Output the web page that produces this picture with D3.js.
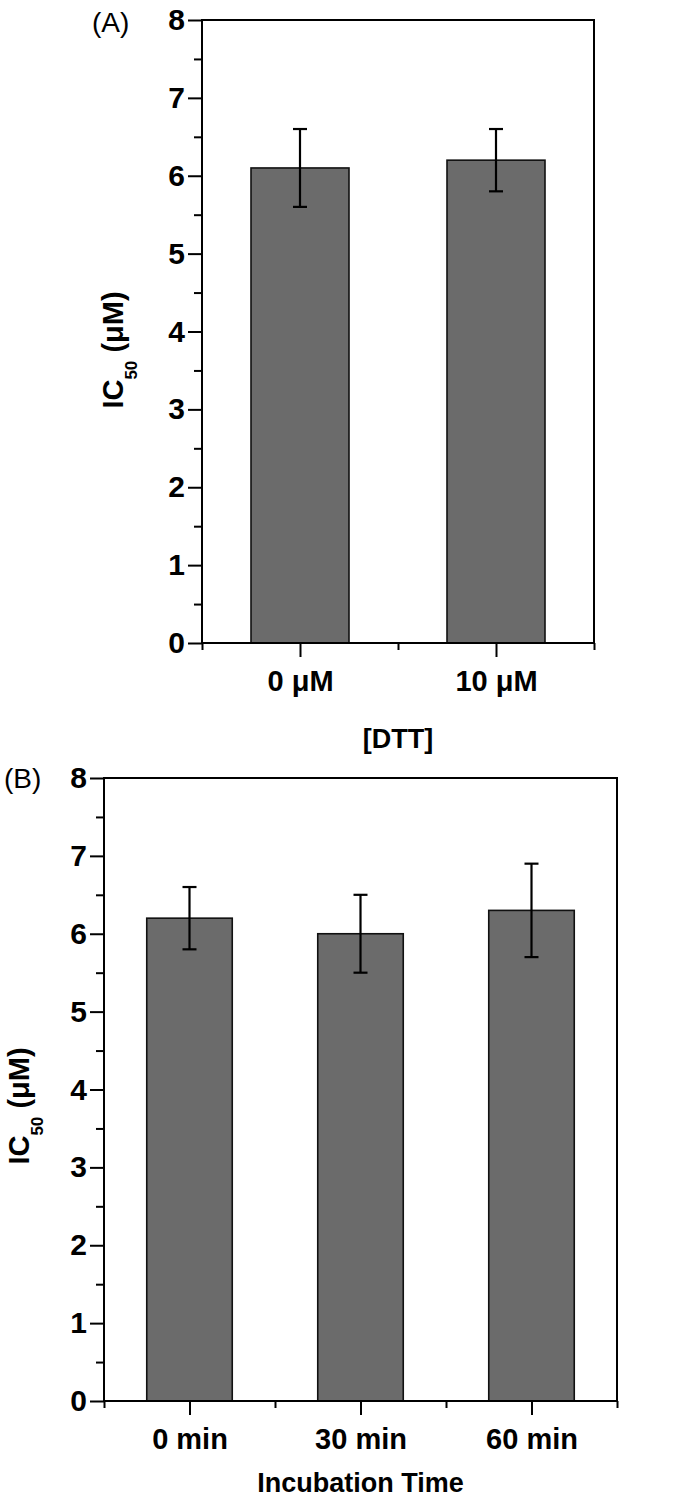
<!DOCTYPE html>
<html>
<head>
<meta charset="utf-8">
<script src="https://cdn.jsdelivr.net/npm/d3@7"></script>
<style>
  body { margin: 0; background: #fff; }
  svg { display: block; }
  text { font-family: "Liberation Sans", Arial, sans-serif; }
</style>
</head>
<body>
<svg id="chart" width="700" height="1511"></svg>
<script>
// ---- data ----
const categoriesA = ["0 μM", "10 μM"];
const valuesA = [6.1, 6.2];
const errorsA = [0.5, 0.4];

const categoriesB = ["0 min", "30 min", "60 min"];
const valuesB = [6.2, 6.0, 6.3];
const errorsB = [0.4, 0.5, 0.6];

const yMajorTicks = [0, 1, 2, 3, 4, 5, 6, 7, 8];
const yMinorTicks = [0.5, 1.5, 2.5, 3.5, 4.5, 5.5, 6.5, 7.5];

const panelLabels = ["(A)", "(B)"];
const xTitles = ["[DTT]", "Incubation Time"];

// ---- layout ----
const svg = d3.select("#chart");

function panel(cfg) {
  const n = cfg.cats.length;
  const x = d3.scaleLinear().domain([0.5, n + 0.5]).range([cfg.left, cfg.right]);
  const y = d3.scaleLinear().domain([0, 8]).range([cfg.bottom, cfg.top]);
  const g = svg.append("g");

  // bars (width = half a category slot)
  const bw = x(1.5) - x(1);
  g.selectAll("rect.bar").data(cfg.vals).enter().append("rect")
    .attr("class", "bar")
    .attr("x", (d, i) => x(i + 1) - bw / 2)
    .attr("width", bw)
    .attr("y", d => y(d))
    .attr("height", d => y(0) - y(d))
    .attr("fill", "#6b6b6b")
    .attr("stroke", "#111")
    .attr("stroke-width", 1.6);

  // error bars
  const cap = 7;
  const eb = g.selectAll("g.err").data(cfg.vals).enter().append("g").attr("class", "err");
  eb.append("line")
    .attr("x1", (d, i) => x(i + 1)).attr("x2", (d, i) => x(i + 1))
    .attr("y1", (d, i) => y(d + cfg.errs[i])).attr("y2", (d, i) => y(d - cfg.errs[i]));
  eb.append("line")
    .attr("x1", (d, i) => x(i + 1) - cap).attr("x2", (d, i) => x(i + 1) + cap)
    .attr("y1", (d, i) => y(d + cfg.errs[i])).attr("y2", (d, i) => y(d + cfg.errs[i]));
  eb.append("line")
    .attr("x1", (d, i) => x(i + 1) - cap).attr("x2", (d, i) => x(i + 1) + cap)
    .attr("y1", (d, i) => y(d - cfg.errs[i])).attr("y2", (d, i) => y(d - cfg.errs[i]));
  eb.selectAll("line").attr("stroke", "#000").attr("stroke-width", 2.2);

  // y axis major
  const yAx = g.append("g").attr("transform", `translate(${cfg.left},0)`)
    .call(d3.axisLeft(y).tickValues(yMajorTicks).tickSize(14).tickPadding(3).tickFormat(d3.format("d")));
  yAx.select(".domain").remove();
  yAx.selectAll("line").attr("stroke", "#000").attr("stroke-width", 2);
  yAx.selectAll("text").attr("font-size", 30).attr("font-weight", "bold").attr("fill", "#000");
  const yMin = g.append("g").attr("transform", `translate(${cfg.left},0)`)
    .call(d3.axisLeft(y).tickValues(yMinorTicks).tickSize(8).tickFormat(""));
  yMin.select(".domain").remove();
  yMin.selectAll("line").attr("stroke", "#000").attr("stroke-width", 2);

  // x axis
  const majX = d3.range(1, n + 1);
  const minX = d3.range(0, n + 1).map(i => i + 0.5);
  const xAx = g.append("g").attr("transform", `translate(0,${cfg.bottom})`)
    .call(d3.axisBottom(x).tickValues(majX).tickSize(14).tickPadding(13).tickFormat(i => cfg.cats[i - 1]));
  xAx.select(".domain").remove();
  xAx.selectAll("line").attr("stroke", "#000").attr("stroke-width", 2);
  xAx.selectAll("text").attr("font-size", 29).attr("font-weight", "bold").attr("fill", "#000");
  const xMin = g.append("g").attr("transform", `translate(0,${cfg.bottom})`)
    .call(d3.axisBottom(x).tickValues(minX).tickSize(7).tickFormat(""));
  xMin.select(".domain").remove();
  xMin.selectAll("line").attr("stroke", "#000").attr("stroke-width", 2);

  // frame
  g.append("rect")
    .attr("x", cfg.left).attr("y", cfg.top)
    .attr("width", cfg.right - cfg.left).attr("height", cfg.bottom - cfg.top)
    .attr("fill", "none").attr("stroke", "#000").attr("stroke-width", 2);

  // x title
  g.append("text")
    .attr("x", (cfg.left + cfg.right) / 2).attr("y", cfg.xTitleY)
    .attr("text-anchor", "middle").attr("font-size", 27).attr("font-weight", "bold")
    .text(cfg.xTitle);

  // y title
  const yt = g.append("text")
    .attr("transform", `translate(${cfg.yTitleX},${cfg.yTitleY}) rotate(-90)`)
    .attr("text-anchor", "middle").attr("font-size", 29).attr("font-weight", "bold");
  yt.append("tspan").text("IC");
  yt.append("tspan").attr("font-size", 17).attr("dy", 14).text("50");
  yt.append("tspan").attr("dy", -14).text(" (μM)");

  // panel label
  g.append("text")
    .attr("x", cfg.labelX).attr("y", cfg.labelY)
    .attr("font-size", 28)
    .text(cfg.label);
}

panel({
  cats: categoriesA, vals: valuesA, errs: errorsA,
  left: 202, right: 594, top: 20, bottom: 643,
  xTitle: xTitles[0], xTitleY: 748,
  yTitleX: 123, yTitleY: 350,
  label: panelLabels[0], labelX: 92, labelY: 32
});

panel({
  cats: categoriesB, vals: valuesB, errs: errorsB,
  left: 104, right: 617, top: 778, bottom: 1401,
  xTitle: xTitles[1], xTitleY: 1492,
  yTitleX: 29, yTitleY: 1106,
  label: panelLabels[1], labelX: 4, labelY: 788
});
</script>
</body>
</html>
